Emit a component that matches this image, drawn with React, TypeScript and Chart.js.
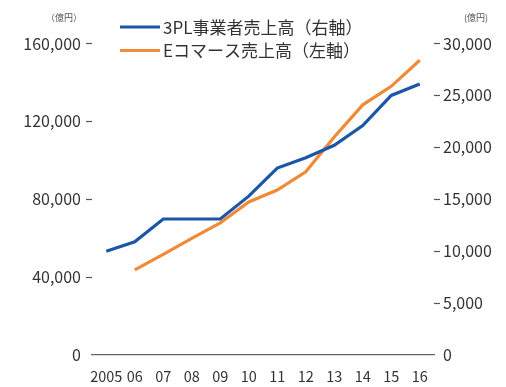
import React, { useEffect, useRef } from "react";
import { Chart, registerables } from "chart.js";

Chart.register(...registerables);

const years = ["2005", "06", "07", "08", "09", "10", "11", "12", "13", "14", "15", "16"];
const threePL = [10000, 10900, 13100, 13100, 13100, 15300, 18000, 19000, 20200, 22100, 25000, 26100];
const ecommerce = [null, 43700, 51700, 59900, 67800, 78600, 84700, 94100, 112000, 128500, 138000, 151400];
const leftTicks = [0, 40000, 80000, 120000, 160000];
const rightTicks = [0, 5000, 10000, 15000, 20000, 25000, 30000];
const legendLabels = ["3PL事業者売上高（右軸）", "Eコマース売上高（左軸）"];
const unitLeft = "（億円）";
const unitRight = "(億円)";

const BLUE = "#1b57a6";
const ORANGE = "#ef8b38";
const TEXT = "#333333";
const FONT = "'Noto Sans CJK JP', 'Noto Sans', sans-serif";

const fmt = (v: number) => Number(v).toLocaleString("en-US");

const overlayPlugin = {
  id: "overlay",
  afterDraw(chart: any) {
    const ctx = chart.ctx;
    ctx.save();
    const colors = [BLUE, ORANGE];
    const ys = [27, 50.5];
    legendLabels.forEach((label, i) => {
      ctx.strokeStyle = colors[i];
      ctx.lineWidth = 3;
      ctx.beginPath();
      ctx.moveTo(120, ys[i]);
      ctx.lineTo(160, ys[i]);
      ctx.stroke();
      ctx.fillStyle = TEXT;
      ctx.font = `17px ${FONT}`;
      ctx.textAlign = "left";
      ctx.textBaseline = "middle";
      ctx.fillText(label, 163, ys[i] + 0.5);
    });
    ctx.font = `9px ${FONT}`;
    ctx.fillStyle = "#555555";
    ctx.textAlign = "center";
    ctx.textBaseline = "middle";
    ctx.fillText(unitLeft, 64, 18);
    ctx.fillText(unitRight, 476, 18);
    ctx.restore();
  },
};

export default function App() {
  const ref = useRef<HTMLCanvasElement | null>(null);
  useEffect(() => {
    if (!ref.current) return;
    const tickColor = (c: any) => (c.tick && c.tick.value === 0 ? "rgba(0,0,0,0)" : "#555555");
    const chart = new Chart(ref.current, {
      type: "line",
      data: {
        labels: years,
        datasets: [
          {
            label: legendLabels[0],
            data: threePL,
            yAxisID: "yR",
            borderColor: BLUE,
            backgroundColor: BLUE,
            borderWidth: 3.2,
            pointRadius: 0,
            tension: 0,
          },
          {
            label: legendLabels[1],
            data: ecommerce as any,
            yAxisID: "yL",
            borderColor: ORANGE,
            backgroundColor: ORANGE,
            borderWidth: 3.2,
            pointRadius: 0,
            tension: 0,
          },
        ],
      },
      options: {
        responsive: false,
        animation: false,
        layout: { padding: { top: 43.5, left: 0, right: 0, bottom: 0 } },
        plugins: { legend: { display: false }, tooltip: { enabled: false } },
        scales: {
          x: {
            type: "category",
            offset: true,
            grid: { display: true, drawOnChartArea: false, drawTicks: false },
            border: { display: true, color: "#666666", width: 1.2 },
            ticks: {
              color: TEXT,
              font: { family: FONT, size: 14.5 },
              padding: 13,
              maxRotation: 0,
              autoSkip: false,
            },
            afterFit: (s: any) => {
              s.height = 32;
            },
          },
          yL: {
            type: "linear",
            position: "left",
            min: 0,
            max: 160000,
            afterBuildTicks: (s: any) => {
              s.ticks = leftTicks.map((v) => ({ value: v }));
            },
            grid: { drawOnChartArea: false, drawTicks: true, tickLength: 6, tickColor, tickWidth: 1.2 },
            border: { display: false },
            ticks: {
              color: TEXT,
              font: { family: FONT, size: 16 },
              padding: 5,
              callback: (v: any) => fmt(v),
            },
            afterFit: (s: any) => {
              s.width = 92;
            },
          },
          yR: {
            type: "linear",
            position: "right",
            min: 0,
            max: 30000,
            afterBuildTicks: (s: any) => {
              s.ticks = rightTicks.map((v) => ({ value: v }));
            },
            grid: { drawOnChartArea: false, drawTicks: true, tickLength: 6, tickColor, tickWidth: 1.2 },
            border: { display: false },
            ticks: {
              color: TEXT,
              font: { family: FONT, size: 16 },
              padding: 3,
              callback: (v: any) => fmt(v),
            },
            afterFit: (s: any) => {
              s.width = 72;
            },
          },
        },
      },
      plugins: [overlayPlugin],
    } as any);
    return () => chart.destroy();
  }, []);
  return (
    <div style={{ position: "fixed", left: 0, top: 0, width: 506, height: 387, background: "#ffffff" }}>
      <canvas ref={ref} width={506} height={387} style={{ display: "block" }} />
    </div>
  );
}
